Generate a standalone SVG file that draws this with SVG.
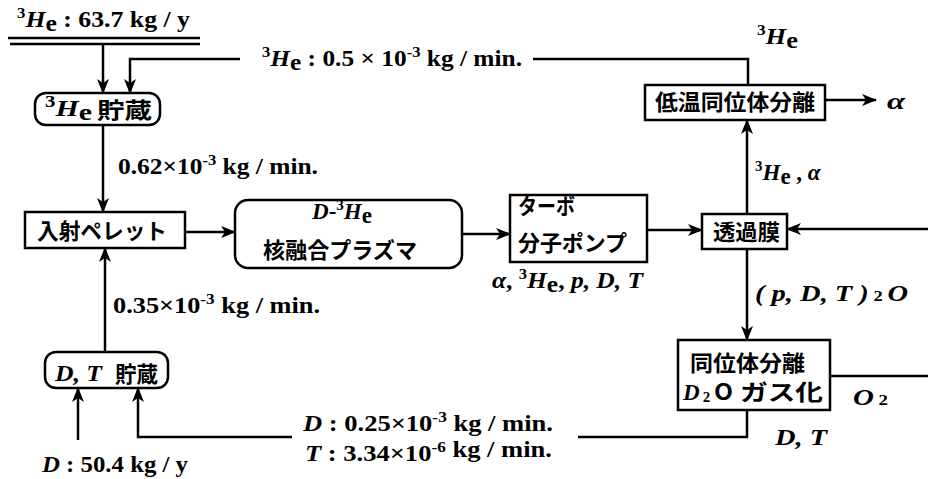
<svg xmlns="http://www.w3.org/2000/svg" width="928" height="479" viewBox="0 0 928 479">
<style>
.t{font-family:"Liberation Serif",serif;font-weight:bold;font-size:23px;fill:#000}
.j{font-family:"Noto Sans CJK JP",sans-serif;font-weight:bold;font-size:22px;fill:#000}
.i{font-style:italic}
.s{font-size:15px}
.box{fill:#fff;stroke:#000;stroke-width:2.5}
.ln{fill:none;stroke:#000;stroke-width:2.5}
</style>
<defs>
<marker id="ah" markerUnits="userSpaceOnUse" markerWidth="16" markerHeight="12" refX="14" refY="6" orient="auto">
<path d="M0,0 L15,6 L0,12 L4,6 z" fill="#000"/>
</marker>
</defs>
<rect width="928" height="479" fill="#fff"/>

<g id="connectors">
<line class="ln" x1="8" y1="38" x2="200" y2="38"/>
<line class="ln" x1="10" y1="44" x2="200" y2="44"/>
<line class="ln" x1="103" y1="44" x2="103" y2="93" marker-end="url(#ah)"/>
<path class="ln" d="M748,85 V59 H533"/>
<path class="ln" d="M240,59 H130 V93" marker-end="url(#ah)"/>
<line class="ln" x1="103" y1="125" x2="103" y2="212" marker-end="url(#ah)"/>
<line class="ln" x1="185" y1="232" x2="235" y2="232" marker-end="url(#ah)"/>
<line class="ln" x1="462" y1="234" x2="510" y2="234" marker-end="url(#ah)"/>
<line class="ln" x1="647" y1="230" x2="702" y2="230" marker-end="url(#ah)"/>
<line class="ln" x1="928" y1="229" x2="787" y2="229" marker-end="url(#ah)"/>
<line class="ln" x1="747" y1="214" x2="747" y2="120" marker-end="url(#ah)"/>
<line class="ln" x1="825" y1="100" x2="876" y2="100" marker-end="url(#ah)"/>
<line class="ln" x1="747" y1="249" x2="747" y2="340" marker-end="url(#ah)"/>
<line class="ln" x1="830" y1="376" x2="928" y2="376"/>
<path class="ln" d="M747,410 V437 H578"/>
<path class="ln" d="M292,437 H138 V388" marker-end="url(#ah)"/>
<line class="ln" x1="78" y1="440" x2="78" y2="388" marker-end="url(#ah)"/>
<line class="ln" x1="105" y1="352" x2="105" y2="248" marker-end="url(#ah)"/>
</g>

<g id="he3-storage">
<rect class="box" x="35" y="93" width="125" height="32" rx="11"/>
<text class="t" x="45" y="116" font-size="25" textLength="47" lengthAdjust="spacingAndGlyphs"><tspan font-size="16" dy="-9">3</tspan><tspan class="i" dy="9">H</tspan><tspan dy="4">e</tspan></text>
<text class="j" x="97" y="118" textLength="55" lengthAdjust="spacingAndGlyphs">貯蔵</text>
</g>

<g id="pellet">
<rect class="box" x="25" y="212" width="160" height="36"/>
<text class="j" x="37" y="239" font-size="23" textLength="130" lengthAdjust="spacingAndGlyphs">入射ペレット</text>
</g>

<g id="plasma">
<rect class="box" x="235" y="200" width="227" height="68" rx="13"/>
<text class="t" x="312" y="219" textLength="60" lengthAdjust="spacingAndGlyphs"><tspan class="i">D</tspan>-<tspan class="s" dy="-9">3</tspan><tspan class="i" dy="9">H</tspan><tspan dy="4">e</tspan></text>
<text class="j" x="263" y="258" textLength="154" lengthAdjust="spacingAndGlyphs">核融合プラズマ</text>
</g>

<g id="turbo">
<rect class="box" x="510" y="195" width="137" height="67"/>
<text class="j" x="518" y="214" font-size="19" textLength="57" lengthAdjust="spacingAndGlyphs">ターボ</text>
<text class="j" x="518" y="251" font-size="20" textLength="109" lengthAdjust="spacingAndGlyphs">分子ポンプ</text>
</g>

<g id="membrane">
<rect class="box" x="702" y="214" width="85" height="35"/>
<text class="j" x="713" y="240" textLength="67" lengthAdjust="spacingAndGlyphs">透過膜</text>
</g>

<g id="cryo">
<rect class="box" x="645" y="85" width="180" height="35"/>
<text class="j" x="655" y="110" textLength="160" lengthAdjust="spacingAndGlyphs">低温同位体分離</text>
</g>

<g id="isotope">
<rect class="box" x="678" y="340" width="152" height="70"/>
<text class="j" x="690" y="371" textLength="115" lengthAdjust="spacingAndGlyphs">同位体分離</text>
<text class="t" x="683" y="400" font-size="24"><tspan class="i">D</tspan><tspan class="s" dy="2" dx="3">2</tspan></text>
<text class="j" x="714" y="400" textLength="19" lengthAdjust="spacingAndGlyphs">O</text>
<text class="j" x="740" y="400" textLength="83" lengthAdjust="spacingAndGlyphs">ガス化</text>
</g>

<g id="dt-storage">
<rect class="box" x="45" y="352" width="123" height="36" rx="11"/>
<text class="t i" x="55" y="381" textLength="47" lengthAdjust="spacingAndGlyphs">D, T</text>
<text class="j" x="115" y="382" font-size="21" textLength="43" lengthAdjust="spacingAndGlyphs">貯蔵</text>
</g>

<g id="labels">
<text class="t" x="17" y="27" textLength="173" lengthAdjust="spacingAndGlyphs"><tspan class="s" dy="-9">3</tspan><tspan class="i" dy="9">H</tspan><tspan dy="4">e</tspan><tspan dy="-4"> : 63.7 kg / y</tspan></text>
<text class="t" x="262" y="66" textLength="260" lengthAdjust="spacingAndGlyphs"><tspan class="s" dy="-9">3</tspan><tspan class="i" dy="9">H</tspan><tspan dy="4">e</tspan><tspan dy="-4"> : 0.5 × 10</tspan><tspan class="s" dy="-9">-3</tspan><tspan dy="9"> kg / min.</tspan></text>
<text class="t" x="757" y="44" textLength="41" lengthAdjust="spacingAndGlyphs"><tspan class="s" dy="-9">3</tspan><tspan class="i" dy="9">H</tspan><tspan dy="4">e</tspan></text>
<text class="t" x="118" y="174" textLength="200" lengthAdjust="spacingAndGlyphs">0.62×10<tspan class="s" dy="-9">-3</tspan><tspan dy="9"> kg / min.</tspan></text>
<text class="t" x="755" y="180" font-size="21"><tspan class="s" dy="-9">3</tspan><tspan class="i" dy="9">H</tspan><tspan dy="4">e</tspan><tspan dy="-4"> , </tspan><tspan class="i">α</tspan></text>
<text class="t i" x="887" y="109" font-size="28" textLength="18" lengthAdjust="spacingAndGlyphs">α</text>
<text class="t" x="492" y="288" textLength="151" lengthAdjust="spacingAndGlyphs"><tspan class="i">α</tspan>, <tspan class="s" dy="-9">3</tspan><tspan class="i" dy="9">H</tspan><tspan dy="4">e</tspan><tspan dy="-4">, </tspan><tspan class="i">p, D, T</tspan></text>
<text class="t" x="755" y="301" textLength="153" lengthAdjust="spacingAndGlyphs"><tspan class="i">( p,  D,  T )</tspan><tspan class="s"> 2 </tspan><tspan class="i">O</tspan></text>
<text class="t" x="113" y="313" textLength="207" lengthAdjust="spacingAndGlyphs">0.35×10<tspan class="s" dy="-9">-3</tspan><tspan dy="9"> kg / min.</tspan></text>
<text class="t" x="303" y="431" textLength="250" lengthAdjust="spacingAndGlyphs"><tspan class="i">D</tspan> : 0.25×10<tspan class="s" dy="-9">-3</tspan><tspan dy="9"> kg / min.</tspan></text>
<text class="t" x="305" y="461" textLength="247" lengthAdjust="spacingAndGlyphs"><tspan class="i">T</tspan> : 3.34×10<tspan class="s" dy="-9">-6</tspan><tspan dy="5"> kg / min.</tspan></text>
<text class="t" x="853" y="405" textLength="35" lengthAdjust="spacingAndGlyphs"><tspan class="i">O</tspan><tspan class="s"> 2</tspan></text>
<text class="t i" x="775" y="445" textLength="52" lengthAdjust="spacingAndGlyphs">D, T</text>
<text class="t" x="42" y="472" textLength="146" lengthAdjust="spacingAndGlyphs"><tspan class="i">D</tspan> : 50.4 kg / y</text>
</g>
</svg>
